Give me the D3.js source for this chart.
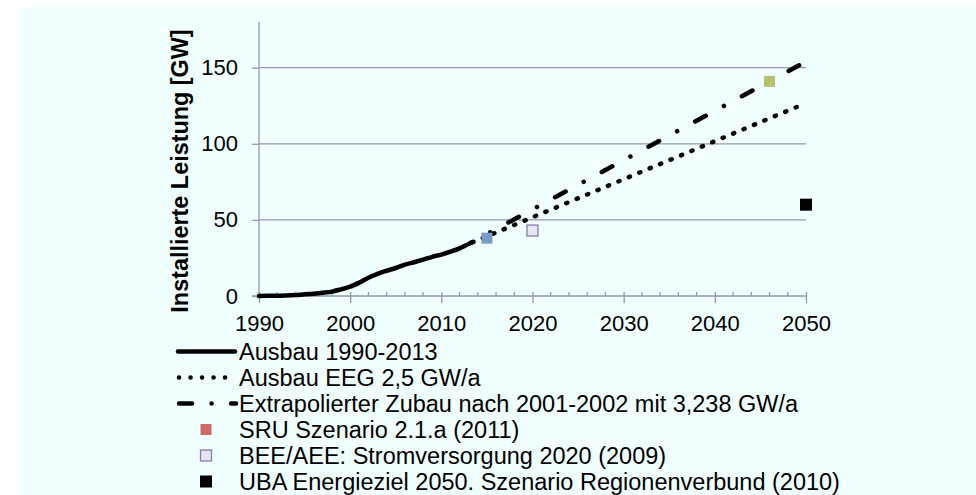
<!DOCTYPE html>
<html>
<head>
<meta charset="utf-8">
<script src="https://cdn.jsdelivr.net/npm/d3@7"></script>
<style>
  html, body { margin: 0; padding: 0; background: #ffffff; }
  svg { display: block; font-family: "Liberation Sans", Arial, sans-serif; }
</style>
</head>
<body>
<svg id="chart" width="976" height="495"></svg>
<script>
// ---- data ----
const ausbauYears = [1990,1991,1992,1993,1994,1995,1996,1997,1998,1999,2000,2001,2002,2003,2004,2005,2006,2007,2008,2009,2010,2011,2012,2013];
const ausbauValues = [0.06,0.1,0.2,0.3,0.6,1.1,1.5,2.1,2.9,4.4,6.1,8.8,12.0,14.6,16.6,18.4,20.6,22.2,23.9,25.7,27.2,29.1,31.3,34.2];
const eegYears = [2013, 2050];
const eegValues = [34.2, 126.7];
const extraYears = [2013, 2050];
const extraValues = [34.2, 154];
const sruYears = [2015, 2046];
const sruValues = [38, 141];
const sruPointColors = ["#7b9cc6", "#b3c170"];
const beeYears = [2020];
const beeValues = [43];
const ubaYears = [2050];
const ubaValues = [60];
const xTickValues = [1990, 2000, 2010, 2020, 2030, 2040, 2050];
const yTickValues = [0, 50, 100, 150];
const yLabel = "Installierte Leistung [GW]";
const legendLabels = [
  "Ausbau 1990-2013",
  "Ausbau EEG 2,5 GW/a",
  "Extrapolierter Zubau nach 2001-2002 mit 3,238 GW/a",
  "SRU Szenario 2.1.a (2011)",
  "BEE/AEE: Stromversorgung 2020 (2009)",
  "UBA Energieziel 2050. Szenario Regionenverbund (2010)"
];

// ---- layout ----
const svg = d3.select("#chart");
const axisColor = "#8f9ab2";
const bg = "#f0ffff";

svg.append("rect").attr("x", 20).attr("y", 7).attr("width", 956).attr("height", 488).attr("fill", bg);

const x = d3.scaleLinear().domain([1990, 2050]).range([259, 806]);
const y = d3.scaleLinear().domain([0, 180]).range([296, 22]);

// gridlines
svg.append("g").selectAll("line").data(yTickValues.filter(d => d > 0)).join("line")
  .attr("x1", x(1990)).attr("x2", x(2050))
  .attr("y1", d => y(d)).attr("y2", d => y(d))
  .attr("stroke", axisColor).attr("stroke-width", 1.3);

// y axis
const yAxis = d3.axisLeft(y).tickValues(yTickValues).tickSize(7).tickPadding(14).tickFormat(d3.format("d"));
const gy = svg.append("g").attr("transform", `translate(${x(1990)},0)`).call(yAxis);
gy.select(".domain").attr("stroke", axisColor).attr("stroke-width", 1.3).attr("d", `M-7,${y(0)}H0V${y(180)}`);
gy.selectAll(".tick line").attr("stroke", axisColor).attr("stroke-width", 1.3);
gy.selectAll(".tick text").attr("font-size", 22).attr("fill", "#000").attr("font-family", "Liberation Sans, Arial, sans-serif");

// x axis
const minorTicks = d3.range(1992, 2050, 2).filter(d => d % 10 !== 0);
svg.append("g").selectAll("line").data(minorTicks).join("line")
  .attr("x1", d => x(d)).attr("x2", d => x(d))
  .attr("y1", y(0) - 4).attr("y2", y(0))
  .attr("stroke", axisColor).attr("stroke-width", 1.3);
const xAxis = d3.axisBottom(x).tickValues(xTickValues).tickSize(7).tickPadding(12).tickFormat(d3.format("d"));
const gx = svg.append("g").attr("transform", `translate(0,${y(0)})`).call(xAxis);
gx.select(".domain").attr("stroke", axisColor).attr("stroke-width", 1.3).attr("d", `M${x(1990)},0H${x(2050)}`);
gx.selectAll(".tick line").attr("stroke", axisColor).attr("stroke-width", 1.3).attr("y1", -4);
gx.selectAll(".tick text").attr("font-size", 22).attr("fill", "#000").attr("font-family", "Liberation Sans, Arial, sans-serif");

// y label
svg.append("text")
  .attr("transform", `translate(188,171) rotate(-90)`)
  .attr("text-anchor", "middle")
  .attr("font-size", 23.4).attr("font-weight", "bold").attr("fill", "#000")
  .text(yLabel);

// lines
const straight = d3.line().x(d => x(d[0])).y(d => y(d[1]));
svg.append("path").datum(d3.zip(eegYears, eegValues))
  .attr("d", straight).attr("fill", "none").attr("stroke", "#000")
  .attr("stroke-width", 4.5).attr("stroke-linecap", "round").attr("stroke-dasharray", "1.2,10.1")
  .attr("stroke-dashoffset", -4);
svg.append("path").datum(d3.zip(extraYears, extraValues))
  .attr("d", straight).attr("fill", "none").attr("stroke", "#000")
  .attr("stroke-width", 4.5).attr("stroke-linecap", "round").attr("stroke-dasharray", "12,20.5,0.1,20.5")
  .attr("stroke-dashoffset", 8);
const smooth = d3.line().x(d => x(d[0])).y(d => y(d[1])).curve(d3.curveMonotoneX);
const ausbauPath = svg.append("path").datum(d3.zip(ausbauYears, ausbauValues))
  .attr("d", smooth).attr("fill", "none").attr("stroke", "#000")
  .attr("stroke-width", 4.5).attr("stroke-linecap", "round");
// trim end slightly like reference (ends just before 2013)
{
  const L = ausbauPath.node().getTotalLength();
  ausbauPath.attr("stroke-dasharray", `${L - 3},${L}`);
}

// markers
const sq = 11;
svg.append("g").selectAll("rect").data(d3.zip(sruYears, sruValues, sruPointColors)).join("rect")
  .attr("x", d => x(d[0]) - sq / 2).attr("y", d => y(d[1]) - sq / 2)
  .attr("width", sq).attr("height", sq).attr("fill", d => d[2]);
svg.append("g").selectAll("rect").data(d3.zip(beeYears, beeValues)).join("rect")
  .attr("x", d => x(d[0]) - sq / 2).attr("y", d => y(d[1]) - sq / 2)
  .attr("width", sq).attr("height", sq).attr("fill", "#e6e6f0").attr("stroke", "#8a7aad").attr("stroke-width", 1.3);
svg.append("g").selectAll("rect").data(d3.zip(ubaYears, ubaValues)).join("rect")
  .attr("x", d => x(d[0]) - 6).attr("y", d => y(d[1]) - 6)
  .attr("width", 12).attr("height", 12).attr("fill", "#000");

// legend
const legRowY = [351.5, 377.5, 403.5, 429.5, 455.5, 481.5];
const leg = svg.append("g");
leg.selectAll("text").data(legendLabels).join("text")
  .attr("x", 239).attr("y", (d, i) => legRowY[i] + 8.2)
  .attr("font-size", 23.5).attr("fill", "#000").text(d => d);
leg.append("line").attr("x1", 178).attr("x2", 235).attr("y1", legRowY[0]).attr("y2", legRowY[0])
  .attr("stroke", "#000").attr("stroke-width", 4.5).attr("stroke-linecap", "round");
leg.append("line").attr("x1", 179).attr("x2", 235).attr("y1", legRowY[1]).attr("y2", legRowY[1])
  .attr("stroke", "#000").attr("stroke-width", 4.5).attr("stroke-linecap", "round").attr("stroke-dasharray", "0.1,11.4");
leg.append("line").attr("x1", 179).attr("x2", 236).attr("y1", legRowY[2]).attr("y2", legRowY[2])
  .attr("stroke", "#000").attr("stroke-width", 4.5).attr("stroke-linecap", "round").attr("stroke-dasharray", "13,19.5,0.1,19.5");
leg.append("rect").attr("x", 200.5).attr("y", legRowY[3] - 5.5).attr("width", 11).attr("height", 11).attr("fill", "#cd6a66");
leg.append("rect").attr("x", 200.5).attr("y", legRowY[4] - 5.5).attr("width", 11).attr("height", 11)
  .attr("fill", "#e6e6f0").attr("stroke", "#8a7aad").attr("stroke-width", 1.3);
leg.append("rect").attr("x", 200).attr("y", legRowY[5] - 6).attr("width", 12).attr("height", 12).attr("fill", "#000");
</script>
</body>
</html>
